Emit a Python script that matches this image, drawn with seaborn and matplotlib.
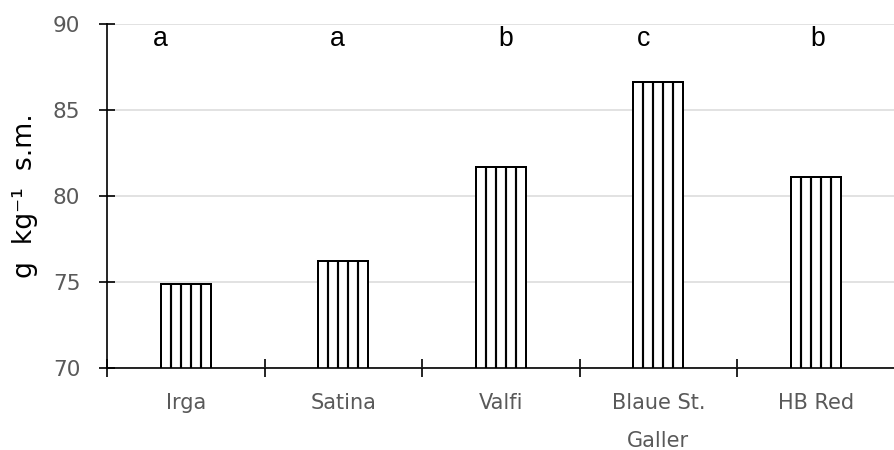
import matplotlib
matplotlib.use("Agg")
import matplotlib.pyplot as plt
import seaborn as sns
import pandas as pd
from matplotlib.ticker import FixedLocator, NullFormatter

# Cultivars, measured content and significance groups
cultivars = ["Irga", "Satina", "Valfi", "Blaue St.\nGaller", "HB Red"]
content = [74.9, 76.2, 81.7, 86.6, 81.1]
groups = ["a", "a", "b", "c", "b"]

# Horizontal nudges of the group letters relative to each bar centre
letter_shift = [-0.16, -0.04, 0.03, -0.095, 0.01]

y_ticks = [70, 75, 80, 85, 90]

DPI = 120
sns.set_theme(style="white")
plt.rcParams["font.family"] = ["DejaVu Sans"]

df = pd.DataFrame({"cultivar": cultivars, "content": content})

fig = plt.figure(figsize=(894 / DPI, 450 / DPI), dpi=DPI)
ax = fig.add_axes([107 / 894, 1 - 368 / 450, (894.5 - 107) / 894, (368 - 24) / 450])

sns.barplot(data=df, x="cultivar", y="content", color="white",
            edgecolor="black", linewidth=1.2, width=0.317, ax=ax, zorder=3)

# Vertical striping inside each bar: four evenly spaced rules
for p in ax.patches:
    p.set_facecolor("white")
    x0, w, h = p.get_x(), p.get_width(), p.get_height()
    xs = [x0 + w * k / 5 for k in range(1, 5)]
    ax.vlines(xs, 0, h, colors="black", linewidth=1.3, zorder=3.5)

ax.set_xlim(-0.5, len(cultivars) - 0.5)
ax.set_ylim(70, 90)
ax.set_yticks(y_ticks)

# Category boundaries carry the crossing ticks; labels sit on minor ticks
ax.xaxis.set_major_locator(FixedLocator([i - 0.5 for i in range(len(cultivars) + 1)]))
ax.xaxis.set_major_formatter(NullFormatter())
ax.xaxis.set_minor_locator(FixedLocator(list(range(len(cultivars)))))
ax.set_xticklabels(cultivars, minor=True, linespacing=2.1)

grey = "#595959"
ax.tick_params(axis="x", which="major", direction="inout", length=10.8,
               width=1.0, color="black", bottom=True)
ax.tick_params(axis="x", which="minor", length=0, pad=15, labelsize=12.5,
               labelcolor=grey, bottom=True)
ax.tick_params(axis="y", which="major", direction="inout", length=10,
               width=1.0, color="black", pad=11, labelsize=13,
               labelcolor=grey, left=True)

ax.yaxis.grid(True, color="#d9d9d9", linewidth=0.9, zorder=0)
ax.xaxis.grid(False)
ax.set_axisbelow(True)

for side in ["top", "right"]:
    ax.spines[side].set_visible(False)
for side in ["left", "bottom"]:
    ax.spines[side].set_color("black")
    ax.spines[side].set_linewidth(1.0)
    ax.spines[side].set_zorder(4)

ax.set_xlabel("")
ax.set_ylabel("g  kg\u207b\u00b9  s.m.", fontsize=16, color="black")
ax.yaxis.set_label_coords(-(107 - 38) / (894.5 - 107), 0.5)

for i, (g, dx) in enumerate(zip(groups, letter_shift)):
    ax.text(i + dx, 89.15, g, ha="center", va="center", fontsize=16,
            family=["Liberation Sans", "DejaVu Sans"], color="black")

fig.savefig("out.png", dpi=DPI)
